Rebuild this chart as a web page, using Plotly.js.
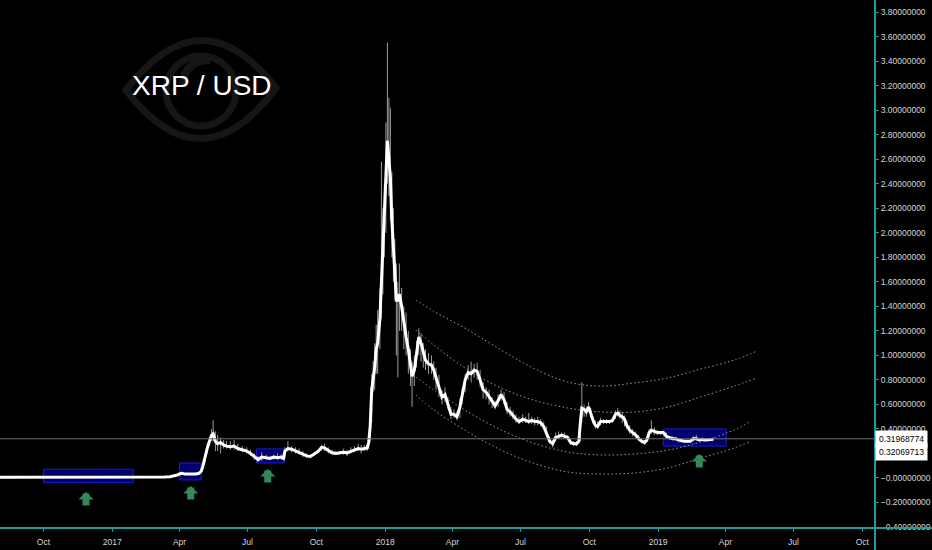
<!DOCTYPE html>
<html><head><meta charset="utf-8">
<script src="https://cdn.plot.ly/plotly-3.0.1.min.js"></script>
<style>html,body{margin:0;padding:0;background:#000;}#chart{width:932px;height:550px;}</style>
</head><body><div id="chart"></div>
<script>
// ---- price series ----
const dates = ['2016-08-04','2016-08-20','2016-09-04','2016-09-14','2016-09-28','2016-10-12','2016-10-26','2016-11-09','2016-11-23','2016-12-07','2016-12-21',
'2017-01-04','2017-01-18','2017-02-01','2017-02-15','2017-03-01','2017-03-12','2017-03-19','2017-03-24','2017-03-28','2017-04-01','2017-04-04','2017-04-08','2017-04-13','2017-04-18','2017-04-23','2017-04-27','2017-04-30',
'2017-05-02','2017-05-05','2017-05-08','2017-05-11','2017-05-14','2017-05-16','2017-05-19','2017-05-22','2017-05-26','2017-05-30','2017-06-03','2017-06-08','2017-06-13','2017-06-18','2017-06-24','2017-06-30',
'2017-07-05','2017-07-10','2017-07-15','2017-07-20','2017-07-26','2017-07-31','2017-08-05','2017-08-10','2017-08-15','2017-08-18','2017-08-20','2017-08-24','2017-08-29',
'2017-09-03','2017-09-08','2017-09-13','2017-09-18','2017-09-23','2017-09-28','2017-10-03','2017-10-08','2017-10-12','2017-10-17','2017-10-22','2017-10-27',
'2017-11-01','2017-11-06','2017-11-11','2017-11-16','2017-11-21','2017-11-26','2017-11-30','2017-12-04','2017-12-08','2017-12-10','2017-12-12','2017-12-14','2017-12-16','2017-12-18','2017-12-20','2017-12-22','2017-12-25','2017-12-27','2017-12-29','2017-12-31',
'2018-01-02','2018-01-04','2018-01-06','2018-01-08','2018-01-10','2018-01-12','2018-01-14','2018-01-16','2018-01-18','2018-01-20','2018-01-23','2018-01-26','2018-01-29',
'2018-02-01','2018-02-04','2018-02-06','2018-02-09','2018-02-12','2018-02-15','2018-02-18','2018-02-21','2018-02-24','2018-02-28',
'2018-03-04','2018-03-07','2018-03-10','2018-03-14','2018-03-18','2018-03-22','2018-03-26','2018-03-30',
'2018-04-03','2018-04-07','2018-04-11','2018-04-14','2018-04-18','2018-04-22','2018-04-26','2018-04-30',
'2018-05-04','2018-05-08','2018-05-12','2018-05-16','2018-05-20','2018-05-24','2018-05-28',
'2018-06-01','2018-06-05','2018-06-09','2018-06-13','2018-06-17','2018-06-21','2018-06-25','2018-06-29',
'2018-07-04','2018-07-08','2018-07-12','2018-07-16','2018-07-20','2018-07-24','2018-07-28',
'2018-08-01','2018-08-05','2018-08-09','2018-08-13','2018-08-17','2018-08-21','2018-08-25','2018-08-29',
'2018-09-02','2018-09-06','2018-09-10','2018-09-14','2018-09-17','2018-09-19','2018-09-21','2018-09-24','2018-09-27','2018-09-30',
'2018-10-03','2018-10-06','2018-10-09','2018-10-12','2018-10-16','2018-10-20','2018-10-24','2018-10-28',
'2018-11-01','2018-11-05','2018-11-08','2018-11-11','2018-11-14','2018-11-17','2018-11-20','2018-11-24','2018-11-28',
'2018-12-02','2018-12-06','2018-12-10','2018-12-14','2018-12-17','2018-12-20','2018-12-23','2018-12-27','2018-12-31',
'2019-01-04','2019-01-08','2019-01-12','2019-01-16','2019-01-20','2019-01-24','2019-01-28',
'2019-02-01','2019-02-05','2019-02-09','2019-02-13','2019-02-17','2019-02-21','2019-02-25',
'2019-03-01','2019-03-05','2019-03-09','2019-03-13','2019-03-16'];

const closes = [.0062,.0060,.0068,.0080,.0090,.0088,.0082,.0078,.0085,.0074,.0064,
.0066,.0068,.0067,.0064,.0064,.0075,.0095,.0150,.0220,.0330,.0380,.0330,.0320,.0330,.0330,.0380,.0550,
.090,.170,.240,.300,.350,.360,.300,.280,.290,.270,.260,.255,.260,.240,.230,.220,
.200,.175,.150,.170,.165,.160,.170,.165,.170,.160,.220,.240,.235,
.220,.210,.190,.180,.175,.195,.215,.250,.245,.225,.205,.200,
.205,.210,.205,.215,.230,.240,.235,.240,.245,.290,.420,.720,.800,.900,1.050,1.100,1.300,1.600,1.900,2.100,
2.500,2.750,2.600,2.450,2.100,1.900,1.700,1.450,1.450,1.500,1.400,1.250,1.150,
1.050,.920,.830,.880,1.020,1.150,1.100,1.040,.960,.930,
.920,.880,.820,.760,.660,.680,.600,.520,
.520,.500,.580,.670,.800,.860,.850,.880,
.870,.800,.720,.700,.660,.620,.590,
.630,.680,.640,.560,.540,.510,.480,.460,
.480,.470,.460,.470,.460,.460,.450,
.420,.360,.300,.280,.330,.340,.350,.340,
.330,.290,.280,.280,.300,.450,.570,.560,.540,.580,
.520,.470,.430,.420,.460,.460,.460,.460,
.470,.520,.530,.510,.500,.480,.430,.390,.370,
.350,.320,.300,.290,.310,.370,.390,.380,.370,
.370,.370,.340,.330,.320,.320,.310,
.305,.300,.300,.300,.320,.320,.310,
.315,.310,.310,.310,.315];

const highs = [.0066,.0064,.0072,.0140,.0098,.0094,.0088,.0084,.0092,.0080,.0069,
.0072,.0073,.0071,.0068,.0068,.0080,.0110,.0180,.0280,.0450,.0500,.0380,.0350,.0360,.0360,.0420,.0650,
.110,.200,.280,.330,.400,.470,.380,.350,.330,.310,.300,.300,.310,.280,.260,.250,
.230,.200,.180,.210,.190,.180,.190,.200,.190,.180,.250,.300,.260,
.250,.240,.220,.200,.190,.210,.230,.270,.280,.250,.230,.220,
.220,.240,.230,.250,.260,.280,.270,.270,.270,.330,.500,.850,.950,1.100,1.250,1.370,1.550,2.580,2.200,2.400,
2.900,3.550,3.100,3.020,2.500,2.200,1.950,1.750,1.600,1.750,1.550,1.400,1.350,
1.200,1.050,.950,1.000,1.120,1.220,1.180,1.100,1.050,1.020,
1.000,.950,.900,.840,.720,.740,.660,.580,
.560,.540,.650,.720,.850,.920,.950,.930,
.940,.880,.780,.740,.720,.660,.630,
.680,.720,.700,.620,.580,.550,.520,.500,
.520,.500,.530,.500,.490,.500,.480,
.460,.420,.340,.310,.370,.380,.370,.370,
.350,.320,.300,.300,.330,.520,.780,.600,.580,.620,
.570,.500,.470,.460,.490,.480,.480,.470,
.490,.550,.570,.550,.540,.510,.470,.430,.400,
.380,.350,.320,.310,.330,.400,.470,.410,.390,
.380,.380,.370,.340,.340,.330,.320,
.320,.310,.310,.310,.340,.350,.320,
.320,.320,.320,.320,.320];

const lows = [.0058,.0057,.0064,.0075,.0084,.0083,.0078,.0074,.0078,.0070,.0060,
.0062,.0064,.0063,.0060,.0060,.0070,.0085,.0120,.0180,.0250,.0300,.0300,.0290,.0300,.0310,.0340,.0450,
.060,.120,.200,.260,.300,.300,.220,.220,.200,.240,.240,.230,.230,.220,.210,.200,
.180,.150,.130,.140,.150,.150,.150,.150,.150,.150,.160,.220,.210,
.200,.190,.170,.160,.160,.180,.200,.220,.220,.200,.190,.190,
.190,.190,.180,.200,.210,.220,.200,.220,.220,.240,.300,.450,.700,.720,.850,.850,1.050,1.300,1.500,1.800,
2.000,2.400,2.300,2.100,1.800,1.600,1.450,1.000,.820,1.200,1.200,1.050,1.000,
.850,.750,.580,.750,.900,1.000,.950,.900,.880,.850,
.850,.800,.720,.660,.600,.620,.560,.480,
.490,.470,.490,.600,.700,.800,.780,.820,
.800,.740,.650,.640,.600,.570,.560,
.580,.630,.600,.520,.500,.480,.450,.440,
.450,.450,.440,.440,.430,.430,.420,
.400,.340,.280,.250,.300,.320,.330,.320,
.310,.270,.260,.260,.280,.300,.450,.500,.500,.540,
.490,.440,.400,.400,.430,.440,.440,.440,
.450,.480,.500,.480,.450,.420,.400,.360,.340,
.330,.300,.280,.270,.290,.330,.360,.350,.350,
.350,.350,.320,.310,.310,.310,.290,
.290,.290,.290,.290,.300,.310,.300,
.300,.300,.300,.305,.310];

// ---- axis ticks ----
const xTickVals = ['2016-10-01','2017-01-01','2017-04-01','2017-07-01','2017-10-01','2018-01-01','2018-04-01','2018-07-01','2018-10-01','2019-01-01','2019-04-01','2019-07-01','2019-10-01'];
const xTickText = ['Oct','2017','Apr','Jul','Oct','2018','Apr','Jul','Oct','2019','Apr','Jul','Oct'];
const yTickVals = [-0.4,-0.2,0,0.2,0.4,0.6,0.8,1.0,1.2,1.4,1.6,1.8,2.0,2.2,2.4,2.6,2.8,3.0,3.2,3.4,3.6,3.8];
const yTickText = ['\u22120.40000000','\u22120.20000000','\u22120.00000000','0.20000000','0.40000000','0.60000000','0.80000000','1.00000000','1.20000000','1.40000000','1.60000000','1.80000000','2.00000000','2.20000000','2.40000000','2.60000000','2.80000000','3.00000000','3.20000000','3.40000000','3.60000000','3.80000000'];

// ---- drawings ----
const zoneStart = ['2016-10-01','2017-04-01','2017-07-13','2019-01-08'];
const zoneEnd   = ['2017-01-29','2017-04-30','2017-08-19','2019-04-02'];
const zoneLow   = [-0.038,-0.016,0.122,0.26];
const zoneHigh  = [0.071,0.122,0.237,0.40];

const arrowDates = ['2016-11-27','2017-04-16','2017-07-28','2019-02-25'];
const arrowTips  = [-0.114,-0.065,0.073,0.196];

const arcADates = ['2018-02-11','2018-03-07','2018-04-22','2018-06-05','2018-07-18','2018-09-02','2018-10-17','2018-11-30','2019-01-14','2019-02-27','2019-04-13','2019-05-13'];
const arcA = [1.452,1.36,1.207,1.044,0.897,0.783,0.750,0.775,0.816,0.889,0.962,1.036];
const arcB = [1.207,1.085,0.881,0.734,0.636,0.571,0.538,0.538,0.579,0.661,0.750,0.816];
const arcCDates = ['2018-02-11','2018-03-07','2018-04-22','2018-06-05','2018-07-18','2018-09-02','2018-10-17','2018-11-30','2019-01-14','2019-02-27','2019-04-13','2019-05-03'];
const arcC = [0.824,0.718,0.538,0.392,0.285,0.212,0.188,0.196,0.228,0.294,0.392,0.457];
const arcD = [0.677,0.555,0.375,0.228,0.122,0.049,0.033,0.041,0.082,0.163,0.245,0.294];

const lastPrice = 0.31968774;
const lastPrice2 = 0.32069713;

// ---- build traces ----
const wx = [], wy = [];
for (let i = 0; i < dates.length; i++) { wx.push(dates[i], dates[i], null); wy.push(lows[i], highs[i], null); }

const arcStyle = {color:'#9a9a9a', width:1, dash:'1.5px,2.5px', shape:'spline', smoothing:1};
const traces = [
  {x:arcADates, y:arcA, mode:'lines', line:arcStyle, hoverinfo:'skip'},
  {x:arcADates, y:arcB, mode:'lines', line:arcStyle, hoverinfo:'skip'},
  {x:arcCDates, y:arcC, mode:'lines', line:arcStyle, hoverinfo:'skip'},
  {x:arcCDates, y:arcD, mode:'lines', line:arcStyle, hoverinfo:'skip'},
  {x:wx, y:wy, mode:'lines', line:{color:'#9c9c9c', width:1}, hoverinfo:'skip', connectgaps:false},
  {x:dates, y:closes, mode:'lines', line:{color:'#ffffff', width:3}, hoverinfo:'skip'}
];

const W = 875, H = 528;
const px = x => x / W, py = y => 1 - y / H;
function pth(cmds){ // pixel path -> paper path (logo decoration)
  return cmds.replace(/(-?[\d.]+),(-?[\d.]+)/g, (m,a,b)=> px(+a).toFixed(4)+','+py(+b).toFixed(4));
}
const teal = '#239b9b';
const logo = '#161616';

const shapes = [
  {type:'path', xref:'paper', yref:'paper', path:pth('M 126,90 Q 201,-8 276,88 Q 201,188 126,90 Z'), line:{color:logo, width:7}, layer:'below'},
  {type:'circle', xref:'paper', yref:'paper', x0:px(166), x1:px(236), y0:py(126), y1:py(56), line:{color:logo, width:7}, layer:'below'},
  {type:'path', xref:'paper', yref:'paper', path:pth('M 210,60 Q 184,60 183,86'), line:{color:logo, width:8}, layer:'below'}
];
for (let i = 0; i < zoneStart.length; i++) {
  shapes.push({type:'rect', xref:'x', yref:'y', x0:zoneStart[i], x1:zoneEnd[i], y0:zoneLow[i], y1:zoneHigh[i],
    fillcolor:'#00006e', line:{color:'#1c1cd2', width:1}, layer:'below'});
}
shapes.push({type:'line', xref:'paper', yref:'y', x0:0, x1:1, y0:lastPrice, y1:lastPrice, line:{color:'#6e6e6e', width:1}});
shapes.push({type:'line', xref:'paper', yref:'paper', x0:0, x1:932/W, y0:0, y1:0, line:{color:teal, width:2}});
shapes.push({type:'line', xref:'paper', yref:'paper', x0:1, x1:1, y0:-22/H, y1:1, line:{color:teal, width:2}});

const annotations = [
  {xref:'paper', yref:'paper', x:px(202), y:py(85), text:'XRP / USD', showarrow:false, xanchor:'center', yanchor:'middle',
   font:{family:'Liberation Sans, Arial, sans-serif', size:28, color:'#ffffff'}},
  {xref:'paper', yref:'y', x:1, y:lastPrice, xanchor:'left', yanchor:'middle', text:lastPrice.toFixed(8), showarrow:false,
   bgcolor:'#ffffff', borderpad:3, font:{family:'Liberation Sans, Arial, sans-serif', size:8.5, color:'#000000'}},
  {xref:'paper', yref:'y', x:1, y:lastPrice2, yshift:-13, xanchor:'left', yanchor:'middle', text:lastPrice2.toFixed(8), showarrow:false,
   bgcolor:'#ffffff', borderpad:3, font:{family:'Liberation Sans, Arial, sans-serif', size:8.5, color:'#000000'}}
];
for (let i = 0; i < arrowDates.length; i++) {
  annotations.push({xref:'x', yref:'y', x:arrowDates[i], y:arrowTips[i], text:'', showarrow:true, ax:0, ay:15,
    arrowhead:1, arrowsize:0.36, arrowwidth:7, arrowcolor:'#33895b', standoff:0, startstandoff:0});
}

const layout = {
  width:932, height:550,
  paper_bgcolor:'#000000', plot_bgcolor:'#000000',
  margin:{l:0, r:57, t:0, b:22},
  showlegend:false,
  xaxis:{type:'date', range:['2016-08-04','2019-10-18'], tickmode:'array', tickvals:xTickVals, ticktext:xTickText,
    showgrid:false, zeroline:false, showline:false, ticks:'outside', ticklen:3, tickcolor:teal, tickwidth:1,
    ticklabelstandoff:3,
    tickfont:{family:'Liberation Sans, Arial, sans-serif', size:8.5, color:'#d6d6d6'}, fixedrange:true},
  yaxis:{side:'right', range:[-0.408, 3.899], tickmode:'array', tickvals:yTickVals, ticktext:yTickText,
    showgrid:false, zeroline:false, showline:false, ticks:'outside', ticklen:3, tickcolor:teal, tickwidth:1,
    tickfont:{family:'Liberation Sans, Arial, sans-serif', size:8.5, color:'#d6d6d6'}, fixedrange:true},
  shapes:shapes, annotations:annotations
};

Plotly.newPlot('chart', traces, layout, {displayModeBar:false, staticPlot:true});
</script>
</body></html>
